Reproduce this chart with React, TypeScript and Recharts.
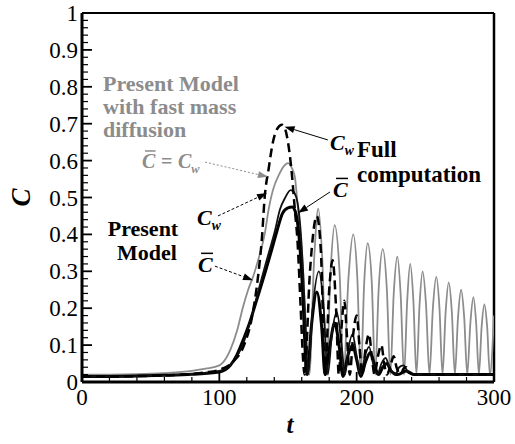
import React from 'react';
import { LineChart, Line, XAxis, YAxis, ReferenceLine, ReferenceDot } from 'recharts';

const SERIF = 'Liberation Serif, Times New Roman, serif';
const GRAY = '#8c8c8c';

// ---- axis ticks ----
const xMajor = [0, 100, 200, 300];
const xTicks = [0, 20, 40, 60, 80, 100, 120, 140, 160, 180, 200, 220, 240, 260, 280, 300];
const yMajor = [0, 0.1, 0.2, 0.3, 0.4, 0.5, 0.6, 0.7, 0.8, 0.9, 1];
const yTicks: number[] = [];
for (let i = 0; i < yMajor.length - 1; i++) {
  for (let k = 0; k < 5; k++) yTicks.push(Math.round((yMajor[i] + k * 0.02) * 1000) / 1000);
}
yTicks.push(1);

// ---- Full computation, C_w (black dashed) ----
const fullCwT = [0, 20, 40, 60, 80, 90, 100, 110, 118, 124, 128, 131, 133, 136, 139, 142, 145.7, 148, 150, 153, 155, 157, 159, 161, 162, 166, 171, 174, 177, 180, 182.5, 185, 187, 189, 191, 193, 195, 197.5, 200, 202, 204, 206.5, 209, 211, 213, 215.5, 218, 220, 222, 225, 227, 229, 232, 234, 236, 238, 242, 260, 280, 300];
const fullCwC = [0.015, 0.015, 0.016, 0.018, 0.022, 0.026, 0.033, 0.055, 0.1, 0.18, 0.28, 0.39, 0.5, 0.58, 0.65, 0.685, 0.697, 0.685, 0.65, 0.556, 0.466, 0.377, 0.22, 0.06, 0.02, 0.3, 0.45, 0.35, 0.02, 0.25, 0.33, 0.2, 0.02, 0.15, 0.22, 0.12, 0.02, 0.13, 0.18, 0.1, 0.02, 0.09, 0.13, 0.07, 0.02, 0.07, 0.1, 0.05, 0.02, 0.05, 0.07, 0.04, 0.02, 0.035, 0.04, 0.025, 0.02, 0.02, 0.02, 0.02];

// ---- Full computation, C-bar (black medium) ----
const fullCbT = [0, 20, 40, 60, 80, 100, 110, 117, 123, 130, 136, 140.5, 144, 148, 152, 155, 157, 159, 161, 163, 164.5, 168, 172.5, 176, 179, 182, 185.5, 189, 191.5, 194, 197, 200, 203, 206, 209, 212, 215, 218, 221, 224, 228, 231, 234, 237, 242, 260, 280, 300];
const fullCbC = [0.015, 0.015, 0.016, 0.018, 0.022, 0.03, 0.055, 0.1, 0.17, 0.27, 0.35, 0.41, 0.466, 0.5, 0.52, 0.51, 0.485, 0.42, 0.3, 0.13, 0.02, 0.2, 0.3, 0.2, 0.02, 0.13, 0.19, 0.1, 0.02, 0.09, 0.13, 0.07, 0.02, 0.07, 0.095, 0.05, 0.02, 0.05, 0.065, 0.04, 0.02, 0.04, 0.045, 0.03, 0.02, 0.02, 0.02, 0.02];

// ---- Present model, C-bar (black thick) ----
const presCbT = [0, 20, 40, 60, 80, 100, 108, 113, 118, 122, 127, 132, 138, 142, 146, 150, 153, 155, 157, 159, 161, 163, 164, 167, 171, 174.5, 177, 180.5, 184, 187.5, 190, 193.5, 197, 200, 203, 206.5, 210, 213, 216, 219, 222, 225, 230, 236, 242, 260, 280, 300];
const presCbC = [0.015, 0.015, 0.016, 0.018, 0.021, 0.027, 0.045, 0.075, 0.12, 0.16, 0.22, 0.28, 0.357, 0.41, 0.457, 0.472, 0.474, 0.465, 0.43, 0.35, 0.22, 0.05, 0.02, 0.15, 0.244, 0.15, 0.02, 0.1, 0.16, 0.09, 0.015, 0.07, 0.1, 0.06, 0.015, 0.055, 0.08, 0.045, 0.02, 0.04, 0.05, 0.03, 0.02, 0.03, 0.02, 0.02, 0.02, 0.02];

// ---- Present model with fast mass diffusion, C-bar = C_w (gray) ----
const fastT = [0, 20, 40, 60, 80, 90, 100, 105, 108, 113, 117, 121, 125, 129, 133, 136, 139, 144, 147, 150, 153, 155, 157, 159, 161, 163, 165.5,
  169, 172, 175, 178, 181, 184, 187.5, 190.5, 194, 197.5, 200.5, 203, 205.5, 208, 211, 213.5, 216, 219, 222, 224.5,
  227, 229.6, 232, 234.5, 236.8, 239, 241.3, 243.5, 245.8, 248, 250.5, 253, 255.5, 258, 260.3, 262.5,
  264.8, 267, 269.3, 271.5, 273.8, 276, 278.3, 280.5, 282.8, 285, 287, 289, 291, 293, 295, 297, 300];
const fastC = [0.02, 0.02, 0.021, 0.024, 0.03, 0.036, 0.045, 0.065, 0.087, 0.14, 0.2, 0.25, 0.29, 0.34, 0.4, 0.47, 0.52, 0.566, 0.585, 0.593, 0.578, 0.556, 0.48, 0.4, 0.3, 0.15, 0.02,
  0.33, 0.47, 0.33, 0.02, 0.3, 0.425, 0.3, 0.02, 0.28, 0.4, 0.28, 0.02, 0.27, 0.376, 0.27, 0.02, 0.25, 0.36, 0.25, 0.02,
  0.24, 0.34, 0.24, 0.02, 0.22, 0.32, 0.22, 0.02, 0.21, 0.3, 0.21, 0.02, 0.2, 0.285, 0.2, 0.02,
  0.19, 0.27, 0.19, 0.02, 0.175, 0.25, 0.175, 0.02, 0.16, 0.23, 0.16, 0.02, 0.15, 0.21, 0.15, 0.02, 0.18];

const pts = (ts: number[], cs: number[]) => ts.map((t, i) => ({ t, c: cs[i] }));
const fullCwData = pts(fullCwT, fullCwC);
const fullCbData = pts(fullCbT, fullCbC);
const presCbData = pts(presCbT, presCbC);
const fastData = pts(fastT, fastC);

const isYMajor = (v: number) => Math.abs(v * 10 - Math.round(v * 10)) < 1e-6;

const tickFont = { fontFamily: SERIF, fontSize: 23 };

const XTick = (props: any) => {
  const { x, y, payload } = props;
  const v = payload.value;
  const major = xMajor.includes(v);
  return (
    <g>
      <line x1={x} y1={y} x2={x} y2={y - (major ? 10 : 5)} stroke="#000" strokeWidth={major ? 1.8 : 1.2} />
      {major && (
        <text x={x} y={y + 23} textAnchor="middle" style={tickFont} fill="#000">{v}</text>
      )}
    </g>
  );
};

const YTick = (props: any) => {
  const { x, y, payload } = props;
  const v = payload.value;
  const major = isYMajor(v);
  const label = v === 0 ? '0' : v === 1 ? '1' : v.toFixed(1);
  return (
    <g>
      <line x1={x} y1={y} x2={x + (major ? 10 : 6)} y2={y} stroke="#000" strokeWidth={major ? 1.8 : 1.2} />
      {major && (
        <text x={x - 4} y={y + 8} textAnchor="end" style={tickFont} fill="#000">{label}</text>
      )}
    </g>
  );
};

const arrowShape = (color: string, dash?: string) => (p: any) => {
  const { x1, y1, x2, y2 } = p;
  const a = Math.atan2(y2 - y1, x2 - x1);
  const L = 10, W = 3.5;
  const bx = x2 - L * Math.cos(a), by = y2 - L * Math.sin(a);
  const px = -Math.sin(a) * W, py = Math.cos(a) * W;
  return (
    <g>
      <line x1={x1} y1={y1} x2={bx} y2={by} stroke={color} strokeWidth={1} strokeDasharray={dash} />
      <polygon points={`${x2},${y2} ${bx + px},${by + py} ${bx - px},${by - py}`} fill={color} />
    </g>
  );
};

const boldStyle = { fontFamily: SERIF, fontWeight: 700, fontSize: 22 };
const bigBold = { fontFamily: SERIF, fontWeight: 700, fontSize: 23 };

const CSym = ({ x, y, color, bar, sub, size = 22 }: any) => (
  <g>
    <text x={x} y={y} style={{ fontFamily: SERIF, fontStyle: 'italic', fontWeight: 700, fontSize: size }} fill={color}>
      C{sub ? <tspan style={{ fontSize: size * 0.62 }} dy={5}>{sub}</tspan> : null}
    </text>
    {bar && <line x1={x + 3} y1={y - size * 0.85} x2={x + size * 0.68} y2={y - size * 0.85} stroke={color} strokeWidth={1.5} />}
  </g>
);

export default function App() {
  return (
    <div style={{ position: 'absolute', left: 0, top: 0, width: 515, height: 444 }}>
      <LineChart width={515} height={444} margin={{ top: 13, right: 21, left: 0, bottom: 0 }}>
        <XAxis
          dataKey="t"
          type="number"
          domain={[0, 300]}
          ticks={xTicks}
          interval={0}
          allowDataOverflow
          tickSize={0}
          tickMargin={0}
          tickLine={false}
          tick={XTick}
          height={62}
          axisLine={{ stroke: '#000', strokeWidth: 3 }}
          label={(p: any) => {
            const vb = p.viewBox || { x: 82, y: 382, width: 412 };
            return (
              <text x={vb.x + vb.width / 2 + 2} y={vb.y + 51} textAnchor="middle" style={{ fontFamily: SERIF, fontStyle: 'italic', fontWeight: 700, fontSize: 25 }} fill="#000">t</text>
            );
          }}
        />
        <YAxis
          type="number"
          domain={[0, 1]}
          ticks={yTicks}
          interval={0}
          allowDataOverflow
          tickSize={0}
          tickMargin={0}
          tickLine={false}
          tick={YTick}
          width={82}
          axisLine={{ stroke: '#000', strokeWidth: 3 }}
          label={(p: any) => {
            const vb = p.viewBox || { x: 0, y: 13, width: 82, height: 369 };
            const cx = vb.x + 21;
            const cy = vb.y + vb.height / 2;
            return (
              <text x={cx} y={cy} transform={`rotate(-90, ${cx}, ${cy})`} textAnchor="middle" dominantBaseline="central" style={{ fontFamily: SERIF, fontStyle: 'italic', fontWeight: 700, fontSize: 27 }} fill="#000">C</text>
            );
          }}
        />
        <ReferenceLine y={1} stroke="#000" strokeWidth={2} />
        <ReferenceLine x={300} stroke="#000" strokeWidth={2.5} />

        <Line data={fastData} dataKey="c" type="monotone" stroke={GRAY} strokeWidth={1.8} dot={false} isAnimationActive={false} />
        <Line data={presCbData} dataKey="c" type="monotone" stroke="#000" strokeWidth={3} dot={false} isAnimationActive={false} />
        <Line data={fullCbData} dataKey="c" type="monotone" stroke="#111" strokeWidth={1.8} dot={false} isAnimationActive={false} />
        <Line data={fullCwData} dataKey="c" type="monotone" stroke="#000" strokeWidth={2.5} strokeDasharray="9 5" dot={false} isAnimationActive={false} />

        {/* arrows */}
        <ReferenceLine segment={[{ x: 89.6, y: 0.596 }, { x: 135.4, y: 0.556 }]} shape={arrowShape(GRAY, '2 2')} ifOverflow="visible" />
        <ReferenceLine segment={[{ x: 99, y: 0.45 }, { x: 134.7, y: 0.512 }]} shape={arrowShape('#000', '3 2')} ifOverflow="visible" />
        <ReferenceLine segment={[{ x: 96.8, y: 0.314 }, { x: 124.5, y: 0.276 }]} shape={arrowShape('#000', '3 2')} ifOverflow="visible" />
        <ReferenceLine segment={[{ x: 179, y: 0.656 }, { x: 147.5, y: 0.692 }]} shape={arrowShape('#000')} ifOverflow="visible" />
        <ReferenceLine segment={[{ x: 180.6, y: 0.515 }, { x: 157.3, y: 0.458 }]} shape={arrowShape('#000')} ifOverflow="visible" />

        {/* labels */}
        <ReferenceDot x={15.3} y={0.788} ifOverflow="visible" shape={(p: any) => (
          <g>
            <text x={p.cx} y={p.cy} style={boldStyle} fill={GRAY}>Present Model</text>
            <text x={p.cx} y={p.cy + 23} style={boldStyle} fill={GRAY}>with fast mass</text>
            <text x={p.cx} y={p.cy + 46} style={boldStyle} fill={GRAY}>diffusion</text>
          </g>
        )} />
        <ReferenceDot x={43.7} y={0.58} ifOverflow="visible" shape={(p: any) => (
          <g>
            <CSym x={p.cx} y={p.cy} color={GRAY} bar size={20} />
            <text x={p.cx + 19} y={p.cy} style={{ fontFamily: SERIF, fontSize: 20, fontWeight: 700 }} fill={GRAY}>=</text>
            <CSym x={p.cx + 36} y={p.cy} color={GRAY} sub="w" size={20} />
          </g>
        )} />
        <ReferenceDot x={83.7} y={0.425} ifOverflow="visible" shape={(p: any) => (
          <CSym x={p.cx} y={p.cy} color="#000" sub="w" />
        )} />
        <ReferenceDot x={44.4} y={0.396} ifOverflow="visible" shape={(p: any) => (
          <g>
            <text x={p.cx} y={p.cy} style={boldStyle} fill="#000" textAnchor="middle">Present</text>
            <text x={p.cx + 4} y={p.cy + 24} style={boldStyle} fill="#000" textAnchor="middle">Model</text>
          </g>
        )} />
        <ReferenceDot x={84.5} y={0.298} ifOverflow="visible" shape={(p: any) => (
          <CSym x={p.cx} y={p.cy} color="#000" bar />
        )} />
        <ReferenceDot x={180.6} y={0.629} ifOverflow="visible" shape={(p: any) => (
          <g>
            <CSym x={p.cx} y={p.cy} color="#000" sub="w" />
            <text x={p.cx + 27} y={p.cy + 7} style={bigBold} fill="#000">Full</text>
            <text x={p.cx + 27} y={p.cy + 32} style={bigBold} fill="#000">computation</text>
          </g>
        )} />
        <ReferenceDot x={182.8} y={0.501} ifOverflow="visible" shape={(p: any) => (
          <CSym x={p.cx} y={p.cy} color="#000" bar />
        )} />
      </LineChart>
    </div>
  );
}
